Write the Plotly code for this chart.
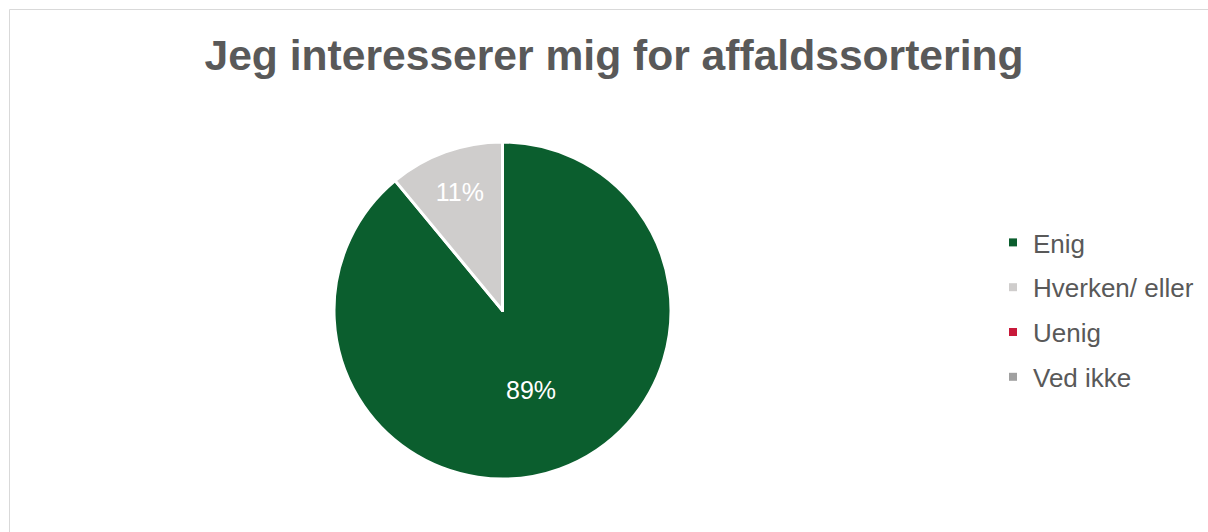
import plotly.graph_objects as go

categories = ["Enig", "Hverken/ eller", "Uenig", "Ved ikke"]
values = [89, 11, 0, 0]
colors = ["#0b5e2e", "#cfcdcc", "#c8193a", "#a0a0a0"]
title_text = "Jeg interesserer mig for affaldssortering"

total = sum(values)
labels_text = [f"{v / total * 100:.0f}%" if v > 0 else "" for v in values]

W, H = 1208, 532
cx, cy, r = 502.5, 310.5, 168.5

fig = go.Figure()
fig.add_trace(go.Pie(
    labels=categories,
    values=values,
    text=labels_text,
    textinfo="text",
    textposition="inside",
    insidetextorientation="horizontal",
    sort=False,
    direction="clockwise",
    rotation=0,
    marker=dict(colors=colors, line=dict(color="white", width=3)),
    textfont=dict(family="Liberation Sans, Arial", size=25, color="white"),
    showlegend=False,
    hoverinfo="label+percent",
    domain=dict(x=[(cx - r) / W, (cx + r) / W], y=[(H - cy - r) / H, (H - cy + r) / H]),
))

# legend entries (square markers) built from the same categories/colors
for cat, col in zip(categories, colors):
    fig.add_trace(go.Scatter(
        x=[None], y=[None], mode="markers", name=cat,
        legendgroup=cat,
        marker=dict(symbol="square", size=8, color=col),
        showlegend=True,
    ))

fig.update_layout(
    width=W, height=H,
    margin=dict(l=0, r=0, t=0, b=0),
    paper_bgcolor="white", plot_bgcolor="white",
    xaxis=dict(visible=False), yaxis=dict(visible=False),
    title=dict(text=f"<b>{title_text}</b>", x=614 / W, xanchor="center",
               y=1 - 55 / H, yanchor="middle",
               font=dict(family="Liberation Sans, Arial", size=42.6, color="#595959")),
    legend=dict(x=993 / W, xanchor="left", y=1 - 310 / H, yanchor="middle",
                font=dict(family="Liberation Sans, Arial", size=26, color="#595959"),
                tracegroupgap=8, itemwidth=30, bgcolor="rgba(0,0,0,0)"),
    shapes=[dict(type="rect", xref="paper", yref="paper",
                 x0=9.5 / W, x1=1.05, y0=-0.05, y1=1 - 9.5 / H,
                 line=dict(color="#d9d9d9", width=1), fillcolor="rgba(0,0,0,0)")],
)

fig.write_html("out.html", config={"displayModeBar": False},
               post_script="document.body.style.margin='0';")
